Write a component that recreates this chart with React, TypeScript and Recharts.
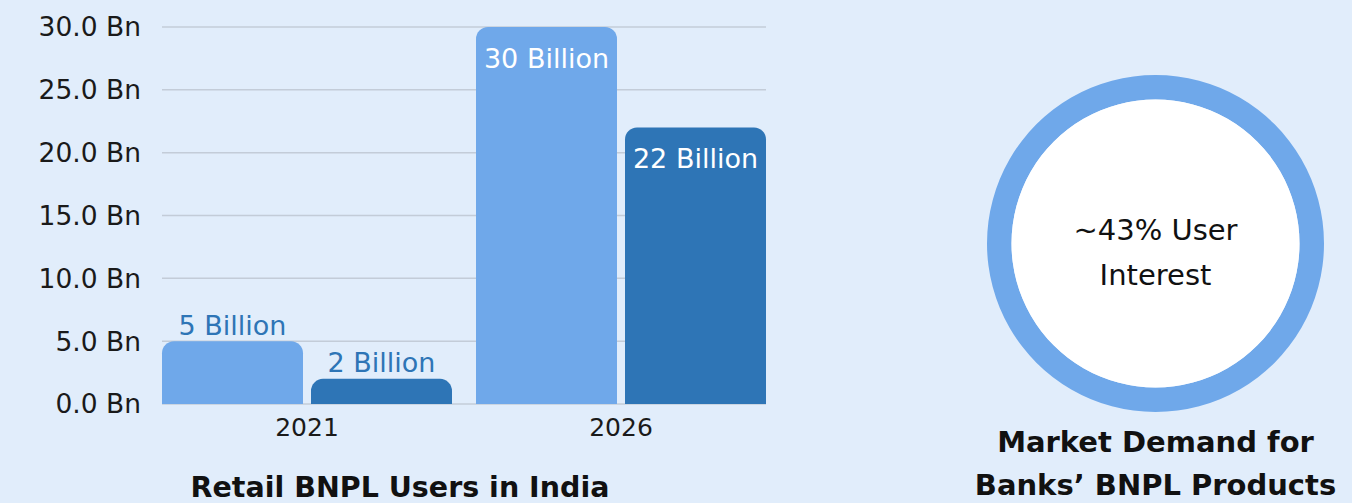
import React from "react";
import {
  BarChart,
  Bar,
  XAxis,
  YAxis,
  CartesianGrid,
  LabelList,
  PieChart,
  Pie,
  Cell,
} from "recharts";

const categories = ["2021", "2026"];
const seriesA = [5, 30];
const seriesB = [2, 22];
const yTicks = [0, 5, 10, 15, 20, 25, 30];
const leftTitle = "Retail BNPL Users in India";
const rightTitleLines = ["Market Demand for", "Banks’ BNPL Products"];
const ringValues = [100];
const innerValues = [100];
const centerTextLines = ["~43% User", "Interest"];

const data = categories.map((c, i) => ({ year: c, a: seriesA[i], b: seriesB[i] }));

const BG = "#E1EDFB";
const LIGHT = "#6FA8EA";
const DARK = "#2E75B6";
const FONT = "'DejaVu Sans', sans-serif";

const makeLabel = (outsideColor: string) => (props: any) => {
  const { x, y, width, value } = props;
  const cx = Number(x) + Number(width) / 2;
  const inside = Number(value) >= 10;
  return (
    <text
      x={cx}
      y={inside ? Number(y) + 31 : Number(y) - 16}
      textAnchor="middle"
      dominantBaseline="central"
      fill={inside ? "#FFFFFF" : outsideColor}
      fontSize={27}
      fontFamily={FONT}
    >
      {`${value} Billion`}
    </text>
  );
};

export default function App() {
  return (
    <div
      style={{
        position: "absolute",
        left: 0,
        top: 0,
        width: 1352,
        height: 503,
        background: BG,
        overflow: "hidden",
      }}
    >
      <div style={{ position: "absolute", left: 0, top: 0 }}>
        <BarChart
          width={800}
          height={503}
          data={data}
          margin={{ top: 27, right: 34, bottom: 59, left: 0 }}
          barCategoryGap={12}
          barGap={8}
        >
          <CartesianGrid vertical={false} stroke="#C3CCD8" strokeWidth={1.5} />
          <XAxis
            dataKey="year"
            axisLine={false}
            tickLine={false}
            tickSize={0}
            tickMargin={14}
            height={40}
            padding={{ left: -12, right: -12 }}
            tick={{ fill: "#1a1a1a", fontSize: 25, fontFamily: FONT }}
          />
          <YAxis
            domain={[0, 30]}
            ticks={yTicks}
            width={162}
            axisLine={false}
            tickLine={false}
            tickSize={0}
            tickMargin={21}
            tickFormatter={(v: number) => `${v.toFixed(1)} Bn`}
            tick={{ fill: "#1a1a1a", fontSize: 26.5, fontFamily: FONT }}
          />
          <Bar dataKey="a" fill={LIGHT} radius={[12, 12, 0, 0]} isAnimationActive={false}>
            <LabelList dataKey="a" content={makeLabel(DARK)} />
          </Bar>
          <Bar dataKey="b" fill={DARK} radius={[12, 12, 0, 0]} isAnimationActive={false}>
            <LabelList dataKey="b" content={makeLabel(DARK)} />
          </Bar>
        </BarChart>
      </div>

      <div style={{ position: "absolute", left: 955, top: 0 }}>
        <PieChart width={400} height={503} margin={{ top: 0, right: 0, bottom: 0, left: 0 }}>
          <Pie
            data={ringValues.map((v) => ({ v }))}
            dataKey="v"
            cx={200.5}
            cy={243.5}
            innerRadius={144}
            outerRadius={168.5}
            stroke="none"
            isAnimationActive={false}
          >
            {ringValues.map((_, i) => (
              <Cell key={i} fill={LIGHT} />
            ))}
          </Pie>
          <Pie
            data={innerValues.map((v) => ({ v }))}
            dataKey="v"
            cx={200.5}
            cy={243.5}
            innerRadius={0}
            outerRadius={144}
            stroke="none"
            isAnimationActive={false}
          >
            {innerValues.map((_, i) => (
              <Cell key={i} fill="#FFFFFF" />
            ))}
          </Pie>
        </PieChart>
      </div>

      <svg
        width={1352}
        height={503}
        style={{ position: "absolute", left: 0, top: 0, pointerEvents: "none" }}
      >
        <text
          x={400}
          y={497}
          textAnchor="middle"
          fontSize={28.5}
          fontWeight="bold"
          fontFamily={FONT}
          fill="#111"
        >
          {leftTitle}
        </text>
        {rightTitleLines.map((t, i) => (
          <text
            key={t}
            x={1155.5}
            y={452 + i * 43}
            textAnchor="middle"
            fontSize={29}
            fontWeight="bold"
            fontFamily={FONT}
            fill="#111"
          >
            {t}
          </text>
        ))}
        {centerTextLines.map((t, i) => (
          <text
            key={t}
            x={1155.5}
            y={240 + i * 45}
            textAnchor="middle"
            fontSize={29}
            fontFamily={FONT}
            fill="#111"
          >
            {t}
          </text>
        ))}
      </svg>
    </div>
  );
}
